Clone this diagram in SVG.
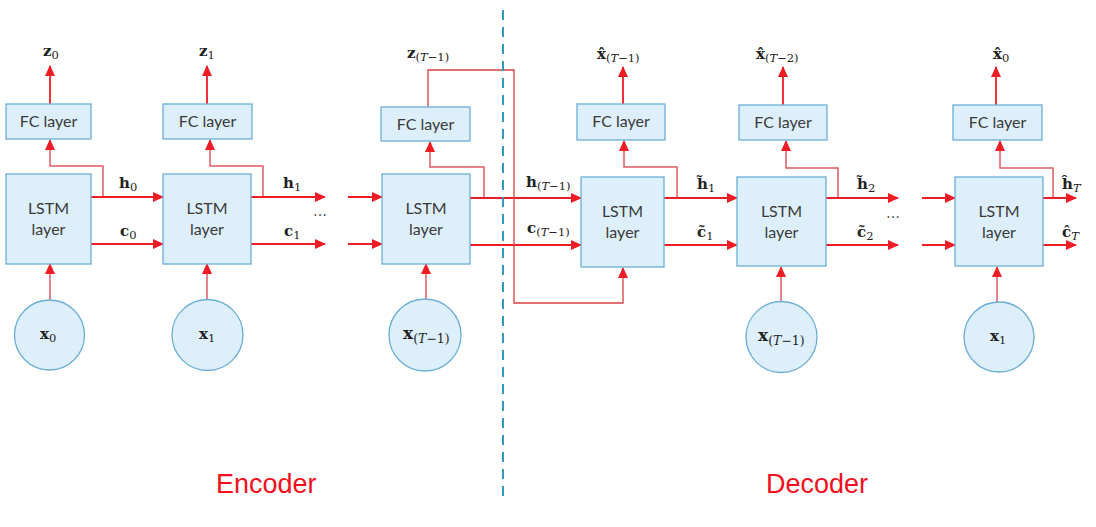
<svg xmlns="http://www.w3.org/2000/svg" width="1096" height="527" viewBox="0 0 1096 527">
<defs>
<marker id="ah" markerUnits="userSpaceOnUse" markerWidth="11" markerHeight="10" refX="10" refY="5" orient="auto">
<path d="M0,0 L11,5 L0,10 z" fill="#EE1C25"/>
</marker>
<style>
.box{fill:#DDEFFB;stroke:#6AAED6;stroke-width:1.3}
.bt{font-family:"Lato","Liberation Sans",sans-serif;font-size:16px;fill:#3a3a3a;text-anchor:middle}
.m{font-family:"DejaVu Serif","Liberation Serif",serif;font-size:15px;fill:#222}
.b{font-weight:bold}
.s{font-size:11.5px}
.it{font-style:italic}
.a{stroke:#EE1C25;stroke-width:1.8;fill:none}
.br{stroke:#E05A64;stroke-width:1.5;fill:none}
.fb{stroke:#D9413F;stroke-width:1.3;fill:none}
.lbl{font-family:"Liberation Sans",sans-serif;font-size:27px;fill:#F01020}
</style>
</defs>
<rect width="1096" height="527" fill="#fff"/>

<g id="connectors">
<line class="a" x1="50" y1="104" x2="50" y2="66" marker-end="url(#ah)"/>
<line class="a" x1="207" y1="104" x2="207" y2="66" marker-end="url(#ah)"/>
<line class="a" x1="623" y1="104" x2="623" y2="67" marker-end="url(#ah)"/>
<line class="a" x1="783" y1="105" x2="783" y2="67" marker-end="url(#ah)"/>
<line class="a" x1="996" y1="105" x2="996" y2="67" marker-end="url(#ah)"/>
<polyline class="br" points="103,197 103,166 50,166 50,140" marker-end="url(#ah)"/>
<polyline class="br" points="263,197 263,166 210,166 210,140" marker-end="url(#ah)"/>
<polyline class="br" points="484,197 484,167 430,167 430,142" marker-end="url(#ah)"/>
<polyline class="br" points="677,198 677,167 624,167 624,141" marker-end="url(#ah)"/>
<polyline class="br" points="838,198 838,168 786,168 786,141" marker-end="url(#ah)"/>
<polyline class="br" points="1053,198 1053,168 1000,168 1000,141" marker-end="url(#ah)"/>
<line class="a" x1="91" y1="197" x2="163" y2="197" marker-end="url(#ah)"/>
<line class="a" x1="91" y1="244" x2="163" y2="244" marker-end="url(#ah)"/>
<line class="a" x1="251" y1="197" x2="325" y2="197" marker-end="url(#ah)"/>
<line class="a" x1="251" y1="244" x2="325" y2="244" marker-end="url(#ah)"/>
<line class="a" x1="348" y1="197" x2="382" y2="197" marker-end="url(#ah)"/>
<line class="a" x1="348" y1="244" x2="382" y2="244" marker-end="url(#ah)"/>
<line class="a" x1="470" y1="198" x2="581" y2="198" marker-end="url(#ah)"/>
<line class="a" x1="470" y1="245" x2="581" y2="245" marker-end="url(#ah)"/>
<line class="a" x1="664" y1="198" x2="737" y2="198" marker-end="url(#ah)"/>
<line class="a" x1="664" y1="245" x2="737" y2="245" marker-end="url(#ah)"/>
<line class="a" x1="826" y1="198" x2="898" y2="198" marker-end="url(#ah)"/>
<line class="a" x1="826" y1="245" x2="898" y2="245" marker-end="url(#ah)"/>
<line class="a" x1="922" y1="198" x2="955" y2="198" marker-end="url(#ah)"/>
<line class="a" x1="922" y1="245" x2="955" y2="245" marker-end="url(#ah)"/>
<line class="a" x1="1043" y1="198" x2="1076" y2="198" marker-end="url(#ah)"/>
<line class="a" x1="1043" y1="245" x2="1076" y2="245" marker-end="url(#ah)"/>
<line class="br" x1="50" y1="300" x2="50" y2="264" marker-end="url(#ah)"/>
<line class="br" x1="207" y1="300" x2="207" y2="264" marker-end="url(#ah)"/>
<line class="br" x1="426" y1="299" x2="426" y2="264" marker-end="url(#ah)"/>
<line class="br" x1="781" y1="302" x2="781" y2="267" marker-end="url(#ah)"/>
<line class="br" x1="997" y1="302" x2="997" y2="267" marker-end="url(#ah)"/>
<polyline class="fb" points="428,107 428,70 514,70 514,303 623,303 623,268" marker-end="url(#ah)"/>
</g>

<line id="divider" x1="503" y1="10" x2="503" y2="500" stroke="#2E9AC0" stroke-width="2" stroke-dasharray="10,7"/>

<g id="enc-fc0"><rect class="box" x="6" y="104" width="85" height="35"/><text class="bt" x="48.5" y="127">FC layer</text></g>
<g id="enc-fc1"><rect class="box" x="163" y="104" width="89" height="35"/><text class="bt" x="207.5" y="127">FC layer</text></g>
<g id="enc-fc2"><rect class="box" x="381" y="107" width="89" height="34"/><text class="bt" x="425.5" y="129.5">FC layer</text></g>
<g id="dec-fc0"><rect class="box" x="577" y="104" width="88" height="36"/><text class="bt" x="621" y="127">FC layer</text></g>
<g id="dec-fc1"><rect class="box" x="739" y="105" width="88" height="35"/><text class="bt" x="783" y="128">FC layer</text></g>
<g id="dec-fc2"><rect class="box" x="953" y="105" width="89" height="35"/><text class="bt" x="997.5" y="128">FC layer</text></g>

<g id="enc-lstm0"><rect class="box" x="6" y="174" width="85" height="90"/><text class="bt" x="48.5" y="214">LSTM</text><text class="bt" x="48.5" y="235">layer</text></g>
<g id="enc-lstm1"><rect class="box" x="163" y="174" width="88" height="90"/><text class="bt" x="207" y="214">LSTM</text><text class="bt" x="207" y="235">layer</text></g>
<g id="enc-lstm2"><rect class="box" x="382" y="174" width="88" height="90"/><text class="bt" x="426" y="214">LSTM</text><text class="bt" x="426" y="235">layer</text></g>
<g id="dec-lstm0"><rect class="box" x="581" y="177" width="83" height="90"/><text class="bt" x="622.5" y="217">LSTM</text><text class="bt" x="622.5" y="238">layer</text></g>
<g id="dec-lstm1"><rect class="box" x="737" y="177" width="89" height="89"/><text class="bt" x="781.5" y="217">LSTM</text><text class="bt" x="781.5" y="238">layer</text></g>
<g id="dec-lstm2"><rect class="box" x="955" y="177" width="88" height="89"/><text class="bt" x="999" y="217">LSTM</text><text class="bt" x="999" y="238">layer</text></g>

<g id="enc-x0"><circle class="box" cx="49.5" cy="335" r="35"/><text class="m" x="40" y="339"><tspan class="b">x</tspan><tspan class="s" dy="3">0</tspan></text></g>
<g id="enc-x1"><circle class="box" cx="207.5" cy="335" r="35.5"/><text class="m" x="199" y="339"><tspan class="b">x</tspan><tspan class="s" dy="3">1</tspan></text></g>
<g id="enc-x2"><circle class="box" cx="425" cy="335" r="36"/><text class="m" x="403" y="339" style="font-size:17px"><tspan class="b">x</tspan><tspan class="s" dy="4" style="font-size:12.5px">(<tspan class="it">T</tspan>−1)</tspan></text></g>
<g id="dec-x0"><circle class="box" cx="781.5" cy="337" r="35.5"/><text class="m" x="758" y="341" style="font-size:17px"><tspan class="b">x</tspan><tspan class="s" dy="4" style="font-size:12.5px">(<tspan class="it">T</tspan>−1)</tspan></text></g>
<g id="dec-x1"><circle class="box" cx="999" cy="337" r="35"/><text class="m" x="990" y="341"><tspan class="b">x</tspan><tspan class="s" dy="3">1</tspan></text></g>

<g id="labels">
<text class="m" x="43" y="56"><tspan class="b">z</tspan><tspan class="s" dy="3">0</tspan></text>
<text class="m" x="199" y="56"><tspan class="b">z</tspan><tspan class="s" dy="3">1</tspan></text>
<text class="m" x="407" y="58"><tspan class="b">z</tspan><tspan class="s" dy="3">(<tspan class="it">T</tspan>−1)</tspan></text>
<text class="m" x="597" y="59"><tspan class="b">x̂</tspan><tspan class="s" dy="3">(<tspan class="it">T</tspan>−1)</tspan></text>
<text class="m" x="756" y="59"><tspan class="b">x̂</tspan><tspan class="s" dy="3">(<tspan class="it">T</tspan>−2)</tspan></text>
<text class="m" x="993" y="59"><tspan class="b">x̂</tspan><tspan class="s" dy="3">0</tspan></text>
<text class="m" x="119" y="188"><tspan class="b">h</tspan><tspan class="s" dy="3">0</tspan></text>
<text class="m" x="120" y="236"><tspan class="b">c</tspan><tspan class="s" dy="3">0</tspan></text>
<text class="m" x="283" y="188"><tspan class="b">h</tspan><tspan class="s" dy="3">1</tspan></text>
<text class="m" x="284" y="236"><tspan class="b">c</tspan><tspan class="s" dy="3">1</tspan></text>
<text class="m" x="313" y="220" style="font-size:14px;fill:#555">⋯</text>
<text class="m" x="526" y="187"><tspan class="b">h</tspan><tspan class="s" dy="3">(<tspan class="it">T</tspan>−1)</tspan></text>
<text class="m" x="527" y="233"><tspan class="b">c</tspan><tspan class="s" dy="3">(<tspan class="it">T</tspan>−1)</tspan></text>
<text class="m" x="697" y="189"><tspan class="b">h̃</tspan><tspan class="s" dy="3">1</tspan></text>
<text class="m" x="697" y="237"><tspan class="b">c̃</tspan><tspan class="s" dy="3">1</tspan></text>
<text class="m" x="857" y="189"><tspan class="b">h̃</tspan><tspan class="s" dy="3">2</tspan></text>
<text class="m" x="857" y="237"><tspan class="b">c̃</tspan><tspan class="s" dy="3">2</tspan></text>
<text class="m" x="886" y="222" style="font-size:14px;fill:#555">⋯</text>
<text class="m" x="1062" y="189"><tspan class="b">ĥ</tspan><tspan class="s it" dy="3">T</tspan></text>
<text class="m" x="1062" y="237"><tspan class="b">ĉ</tspan><tspan class="s it" dy="3">T</tspan></text>
</g>

<text id="encoder-label" class="lbl" x="216" y="493">Encoder</text>
<text id="decoder-label" class="lbl" x="766" y="493">Decoder</text>
</svg>
